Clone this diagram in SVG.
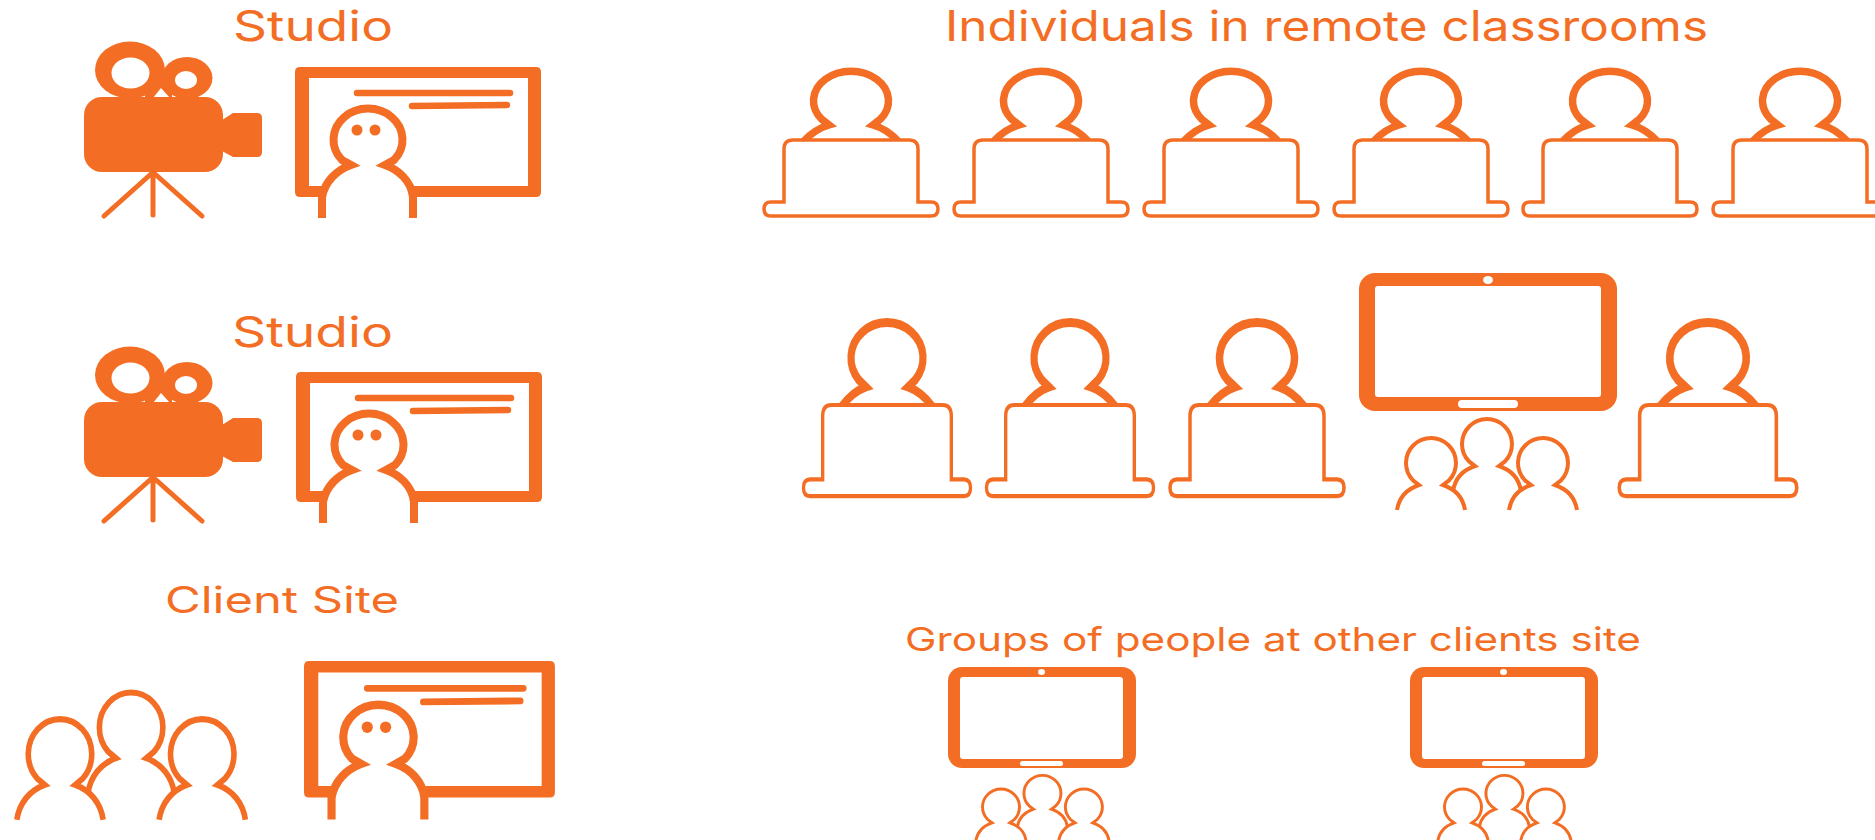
<svg xmlns="http://www.w3.org/2000/svg" xmlns:xlink="http://www.w3.org/1999/xlink" width="1875" height="840" viewBox="0 0 1875 840">
<style>
.t{font-family:"Inter","Liberation Sans",sans-serif;fill:#f36e24}
.o{fill:#f36e24}
.w{fill:#fff}
.l{fill:none;stroke:#f36e24;stroke-linecap:round}
</style>
<defs>
<g id="camera">
<ellipse class="o" cx="130" cy="70" rx="35" ry="28.5"/>
<ellipse class="o" cx="187" cy="78" rx="25.5" ry="21"/>
<path class="o" d="M145 80H172V100H145Z"/>
<ellipse class="w" cx="130.500" cy="73" rx="19" ry="15.500"/>
<ellipse class="w" cx="186" cy="80" rx="11" ry="9"/>
<path class="w" d="M153 98L161 88L170 98Z"/>
<rect class="o" x="84" y="97" width="139" height="75" rx="18"/>
<path class="o" d="M222 120L233 113H257Q262 113 262 118V152Q262 157 257 157H233L222 151Z"/>
<path class="l" stroke-width="5" d="M153 174V215M151 174L104 216M155 174L202 216"/>
</g>
<g id="presenter">
<path class="o" fill-rule="evenodd" d="M5 0H241Q246 0 246 5V125Q246 130 241 130H5Q0 130 0 125V5Q0 0 5 0ZM14 11V119H233V11Z"/>
<path class="l" stroke-width="6.500" d="M62 26H215M117 39L212 38"/>
<path d="M27 151V130C30 114 42 103 56 98L47 93A34.500 31 0 1 1 99 93L90 98C104 103 116 114 118 130V151" fill="#fff" stroke="#f36e24" stroke-width="8" stroke-miterlimit="10"/>
<circle class="o" cx="62" cy="63" r="5.500"/>
<circle class="o" cx="80" cy="63" r="5.500"/>
</g>
<g id="laptop">
<path d="M-47 41Q-36 29 -22 25L-29 19.500A37.500 29.500 0 1 1 29 19.500L22 25Q36 29 47 41" fill="#fff" stroke="#f36e24" stroke-width="7.500" stroke-miterlimit="10"/>
<path d="M-67 102V49Q-67 40 -58 40H58Q67 40 67 49V102H80Q87 102 87 109Q87 116 80 116H-80Q-87 116 -87 109Q-87 102 -80 102Z" fill="#fff" stroke="#f36e24" stroke-width="3.500"/>
</g>
<path id="person" fill="#fff" stroke="#f36e24" stroke-miterlimit="10" d="M-34 47C-32 35 -24 26 -12 22L-18 17.400A25 25 0 1 1 18 17.400L12 22C24 26 32 35 34 47"/>
<g id="group">
<use xlink:href="#person" href="#person" transform="translate(56 -19)"/>
<use xlink:href="#person" href="#person"/>
<use xlink:href="#person" href="#person" transform="translate(112 0)"/>
</g>
</defs>
<rect width="1875" height="840" fill="#fff"/>
<g id="label-studio-1"><text class="t" x="233" y="41" font-size="42" textLength="160" lengthAdjust="spacingAndGlyphs">Studio</text></g>
<g id="camera-1"><use xlink:href="#camera" href="#camera"/></g>
<g id="presenter-1"><use xlink:href="#presenter" href="#presenter" transform="translate(295 67)"/></g>
<g id="label-individuals"><text class="t" x="945" y="41" font-size="42" textLength="763" lengthAdjust="spacingAndGlyphs">Individuals in remote classrooms</text></g>
<g id="laptop-1-1"><use xlink:href="#laptop" href="#laptop" transform="translate(851 100)"/></g>
<g id="laptop-1-2"><use xlink:href="#laptop" href="#laptop" transform="translate(1041 100)"/></g>
<g id="laptop-1-3"><use xlink:href="#laptop" href="#laptop" transform="translate(1231 100)"/></g>
<g id="laptop-1-4"><use xlink:href="#laptop" href="#laptop" transform="translate(1421 100)"/></g>
<g id="laptop-1-5"><use xlink:href="#laptop" href="#laptop" transform="translate(1610 100)"/></g>
<g id="laptop-1-6"><use xlink:href="#laptop" href="#laptop" transform="translate(1800 100)"/></g>
<g id="label-studio-2"><text class="t" x="232" y="347" font-size="42" textLength="161" lengthAdjust="spacingAndGlyphs">Studio</text></g>
<g id="camera-2"><use xlink:href="#camera" href="#camera" transform="translate(0 305)"/></g>
<g id="presenter-2"><use xlink:href="#presenter" href="#presenter" transform="translate(296 372)"/></g>
<g id="laptop-2-1"><use xlink:href="#laptop" href="#laptop" transform="translate(887 357) scale(.96 1.2)"/></g>
<g id="laptop-2-2"><use xlink:href="#laptop" href="#laptop" transform="translate(1070 357) scale(.96 1.2)"/></g>
<g id="laptop-2-3"><use xlink:href="#laptop" href="#laptop" transform="translate(1257 357) scale(1 1.2)"/></g>
<g id="laptop-2-4"><use xlink:href="#laptop" href="#laptop" transform="translate(1708 357) scale(1.02 1.2)"/></g>
<g id="tablet-1">
<rect class="o" x="1359" y="273" width="258" height="138" rx="16"/>
<rect class="w" x="1375" y="286" width="226" height="111" rx="3"/>
<ellipse class="w" cx="1488" cy="280" rx="5" ry="4"/>
<rect class="w" x="1458" y="400" width="60" height="8" rx="4"/>
</g>
<g id="group-1"><use xlink:href="#group" href="#group" transform="translate(1431 463)" stroke-width="4"/></g>
<g id="label-client"><text class="t" x="165" y="613" font-size="37" textLength="234" lengthAdjust="spacingAndGlyphs">Client Site</text></g>
<g id="group-2"><use xlink:href="#group" href="#group" transform="translate(60 754) scale(1.27 1.4)" stroke-width="4.400"/></g>
<g id="presenter-3"><use xlink:href="#presenter" href="#presenter" transform="translate(304 661) scale(1.02 1.05)"/></g>
<g id="label-groups"><text class="t" x="905" y="651" font-size="33" textLength="736" lengthAdjust="spacingAndGlyphs">Groups of people at other clients site</text></g>
<g id="tablet-2">
<rect class="o" x="948" y="667" width="188" height="101" rx="14"/>
<rect class="w" x="960" y="677" width="163" height="82" rx="3"/>
<ellipse class="w" cx="1041.500" cy="672" rx="3.500" ry="3"/>
<rect class="w" x="1020" y="761" width="43" height="5" rx="2.500"/>
</g>
<g id="group-3"><use xlink:href="#group" href="#group" transform="translate(1001 807) scale(.74 .72)" stroke-width="4"/></g>
<g id="tablet-3">
<rect class="o" x="1410" y="667" width="188" height="101" rx="14"/>
<rect class="w" x="1422" y="677" width="163" height="82" rx="3"/>
<ellipse class="w" cx="1503.500" cy="672" rx="3.500" ry="3"/>
<rect class="w" x="1482" y="761" width="43" height="5" rx="2.500"/>
</g>
<g id="group-4"><use xlink:href="#group" href="#group" transform="translate(1463 807) scale(.74 .72)" stroke-width="4"/></g>
</svg>
